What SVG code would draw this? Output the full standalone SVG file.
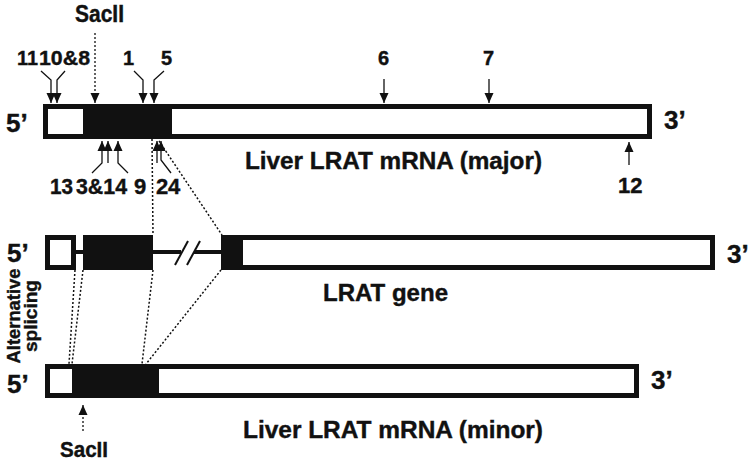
<svg xmlns="http://www.w3.org/2000/svg" width="750" height="462" viewBox="0 0 750 462">
<defs>
<style>
text{font-family:"Liberation Sans",Arial,sans-serif;font-weight:bold;fill:#111;stroke:#111;stroke-width:0.4}
.lbl{font-size:24px}
.end{font-size:26px}
.num{font-size:20px}
.bnum{font-size:22px}
.box{fill:#fff;stroke:#111;stroke-width:5}
.blk{fill:#111}
.arr{fill:none;stroke:#111;stroke-width:1.3;marker-end:url(#ah)}
.darr{fill:none;stroke:#111;stroke-width:1.3;stroke-dasharray:2 2;marker-end:url(#ah)}
.dot{fill:none;stroke:#111;stroke-width:1.5;stroke-dasharray:2 2}
.intron{stroke:#111;stroke-width:4;fill:none}
</style>
<marker id="ah" markerUnits="userSpaceOnUse" markerWidth="10" markerHeight="10" viewBox="0 0 10 9" refX="10" refY="4.5" orient="auto">
<path d="M0,0 L10,4.5 L0,9 z" fill="#111"/>
</marker>
</defs>
<rect width="750" height="462" fill="#fff"/>

<g id="major-mrna">
<rect class="box" x="45.5" y="106.5" width="604" height="30"/>
<rect class="blk" x="83" y="104" width="89" height="35"/>
<text class="end" x="6" y="132">5’</text>
<text class="end" x="664" y="129">3’</text>
<text class="lbl" x="245" y="169" textLength="297" lengthAdjust="spacingAndGlyphs">Liver LRAT mRNA (major)</text>
</g>

<g id="lrat-gene">
<rect class="box" x="47.5" y="237.5" width="26" height="30"/>
<line class="intron" x1="76" y1="252" x2="83" y2="252"/>
<rect class="blk" x="83" y="235" width="70" height="35"/>
<line class="intron" x1="153" y1="252" x2="181" y2="252"/>
<line class="intron" x1="194" y1="252" x2="221" y2="252"/>
<line stroke="#111" stroke-width="2" x1="175" y1="265" x2="188" y2="241"/>
<line stroke="#111" stroke-width="2" x1="187" y1="265" x2="200" y2="241"/>
<rect class="box" x="223.5" y="237.5" width="489" height="30"/>
<rect class="blk" x="221" y="235" width="22" height="35"/>
<text class="end" x="7" y="262">5’</text>
<text class="end" x="727" y="263">3’</text>
<text class="lbl" x="323" y="301" textLength="125" lengthAdjust="spacingAndGlyphs">LRAT gene</text>
</g>

<g id="minor-mrna">
<rect class="box" x="47.5" y="366.5" width="589" height="29"/>
<rect class="blk" x="72" y="364" width="87" height="34"/>
<text class="end" x="7" y="393">5’</text>
<text class="end" x="651" y="389">3’</text>
<text class="lbl" x="243" y="438" textLength="300" lengthAdjust="spacingAndGlyphs">Liver LRAT mRNA (minor)</text>
</g>

<g id="alt-splicing">
<text font-size="19" text-anchor="middle" transform="translate(20,316) rotate(-90)" textLength="95" lengthAdjust="spacingAndGlyphs">Alternative</text>
<text font-size="19" text-anchor="middle" transform="translate(37,316) rotate(-90)" textLength="72" lengthAdjust="spacingAndGlyphs">splicing</text>
</g>

<g id="sites-labels">
<text font-size="23" x="75" y="22" textLength="49" lengthAdjust="spacingAndGlyphs">SacII</text>
<text font-size="22" x="60" y="457" textLength="48" lengthAdjust="spacingAndGlyphs">SacII</text>
<text class="num" x="17" y="65" textLength="21" lengthAdjust="spacingAndGlyphs">11</text>
<text class="num" x="39" y="65" textLength="51" lengthAdjust="spacingAndGlyphs">10&amp;8</text>
<text class="num" x="123" y="65">1</text>
<text class="num" x="161" y="65">5</text>
<text class="num" x="378" y="65">6</text>
<text class="num" x="483" y="65">7</text>
<text class="bnum" x="50" y="194" textLength="23" lengthAdjust="spacingAndGlyphs">13</text>
<text class="bnum" x="76" y="194" textLength="51" lengthAdjust="spacingAndGlyphs">3&amp;14</text>
<text class="bnum" x="134" y="194">9</text>
<text class="bnum" x="156" y="194">2</text>
<text class="bnum" x="168" y="194">4</text>
<text class="bnum" x="618" y="193">12</text>
</g>

<g id="connectors">
<path class="arr" d="M41,71 L51,80 L51,103"/>
<path class="arr" d="M65,71 L57,80 L57,103"/>
<path class="arr" d="M134,71 L143,80 L143,103"/>
<path class="arr" d="M164,71 L154,80 L154,103"/>
<path class="arr" d="M384,79 L384,103"/>
<path class="arr" d="M489,79 L489,103"/>
<path class="darr" d="M95,33 L95,103"/>
<path class="arr" d="M92,173 L102,163 L102,141"/>
<path class="arr" d="M108,163 L108,141"/>
<path class="arr" d="M128,173 L118,163 L118,141"/>
<path class="arr" d="M157,163 L157,141"/>
<path class="arr" d="M171,173 L161,160 L161,141"/>
<path class="arr" d="M629,165 L629,142"/>
<path class="darr" d="M83,431 L83,405"/>
<path class="dot" d="M152,139 L153,235"/>
<path class="dot" d="M159,141 L222,235"/>
<path class="dot" d="M75,270 L69,364"/>
<path class="dot" d="M83,270 L72,364"/>
<path class="dot" d="M153,270 L142,364"/>
<path class="dot" d="M221,270 L146,364"/>
</g>
</svg>
